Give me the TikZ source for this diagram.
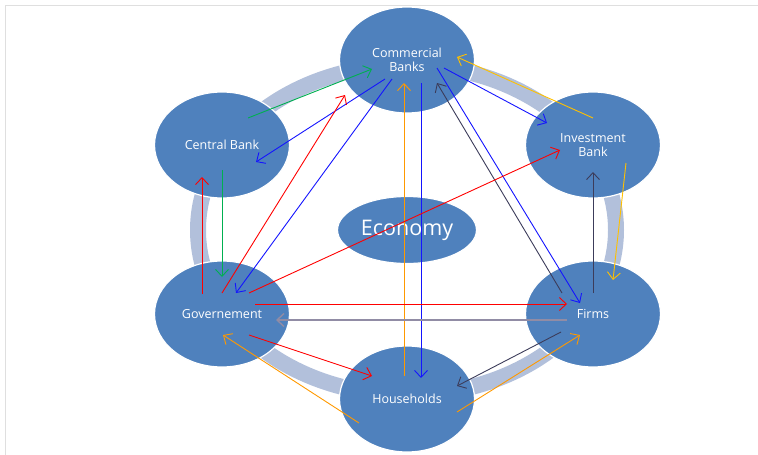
\documentclass[tikz,border=0pt]{standalone}
\usepackage{fontspec}
\setmainfont{Open Sans}
\usetikzlibrary{shapes.geometric,arrows.meta}

\definecolor{nodeblue}{RGB}{79,129,189}
\definecolor{ringblue}{RGB}{178,192,219}
\definecolor{flowgreen}{RGB}{0,176,80}
\definecolor{flowred}{RGB}{255,0,0}
\definecolor{flowblue}{RGB}{20,20,255}
\definecolor{floworange}{RGB}{255,153,0}
\definecolor{flowgold}{RGB}{255,192,0}
\definecolor{flowslate}{RGB}{60,60,90}
\definecolor{flowgrey}{RGB}{145,140,165}

\begin{document}
\begin{tikzpicture}[x=1pt,y=-1pt,
  actor/.style={ellipse,draw=white,line width=1.2pt,fill=nodeblue,text=white,
    minimum width=135pt,minimum height=106pt,inner sep=0pt,align=center,
    font=\fontsize{12.5}{14.5}\selectfont},
  flow/.style={-{Straight Barb[length=7pt,width=13pt]},line width=0.9pt}]
\useasboundingbox (0,0) rectangle (758,455);

%Frame
\draw[gray!25,line width=1pt] (5,455) -- (5,5) -- (758,5);

%Ring
\coordinate (hub) at (407,230);
\draw[ringblue,line width=16pt] (hub) ellipse [x radius=209pt,y radius=165pt];

%Commercial Banks
\node[actor] (cb) at (407,60){Commercial\\Banks};

%Central Bank
\node[actor] (cen) at (222,145){Central Bank};

%Investment Bank
\node[actor] (ib) at (593,145){Investment\\Bank};

%Governement
\node[actor] (gov) at (222,314){Governement};

%Firms
\node[actor] (firm) at (593,314){Firms};

%Households
\node[actor] (hh) at (407,399){Households};

%Economy
\node[actor,minimum width=139pt,minimum height=67pt,
  font=\fontsize{21.5}{24}\selectfont] (eco) at (hub){Economy};

%%%%%%%%%%%%%%%%%Commercial Banks%%%%%%%%%%%%%%
\draw[flow,flowgreen] ([shift={(26,-27)}]cen.center) -- ([shift={(-35,9)}]cb.center);
\draw[flow,flowblue] ([shift={(-22,19)}]cb.center) -- ([shift={(34,17)}]cen.center);
\draw[flow,flowred] ([shift={(0,-21)}]gov.center) -- ([shift={(-62,35)}]cb.center);
\draw[flow,flowblue] ([shift={(-15,19)}]cb.center) -- ([shift={(14,-21)}]gov.center);
\draw[flow,floworange] ([shift={(-3,-23)}]hh.center) -- ([shift={(-3,23)}]cb.center);
\draw[flow,flowblue] ([shift={(14,23)}]cb.center) -- ([shift={(14,-21)}]hh.center);
\draw[flow,flowslate] ([shift={(-31,-21)}]firm.center) -- ([shift={(30,23)}]cb.center);
\draw[flow,flowblue] ([shift={(30,8)}]cb.center) -- ([shift={(-13,-11)}]firm.center);
\draw[flow,flowblue] ([shift={(37,8)}]cb.center) -- ([shift={(-46,-22)}]ib.center);
\draw[flow,flowgold] ([shift={(0,-27)}]ib.center) -- ([shift={(50,-3)}]cb.center);

%%%%%%%%%%%%%%%%%Investment Bank%%%%%%%%%%%%%%
\draw[flow,flowred] ([shift={(27,-21)}]gov.center) -- ([shift={(-33,5)}]ib.center);
\draw[flow,flowslate] ([shift={(0,-21)}]firm.center) -- ([shift={(0,27)}]ib.center);
\draw[flow,flowgold] ([shift={(33,18)}]ib.center) -- ([shift={(20,-34)}]firm.center);

%%%%%%%%%%%%%%%%%Governement%%%%%%%%%%%%%%
\draw[flow,flowred] ([shift={(-20,-20)}]gov.center) -- ([shift={(-20,32)}]cen.center);
\draw[flow,flowgreen] ([shift={(0,25)}]cen.center) -- ([shift={(0,-37)}]gov.center);
\draw[flow,flowred] ([shift={(33,-10)}]gov.center) -- ([shift={(-26,-10)}]firm.center);
\draw[flow,flowgrey,line width=1.4pt] ([shift={(-26,6)}]firm.center) -- ([shift={(54,6)}]gov.center);
\draw[flow,flowred] ([shift={(27,21)}]gov.center) -- ([shift={(-35,-23)}]hh.center);
\draw[flow,floworange] ([shift={(-48,24)}]hh.center) -- ([shift={(1,21)}]gov.center);

%%%%%%%%%%%%%%%%%Households%%%%%%%%%%%%%%
\draw[flow,flowslate] ([shift={(-32,18)}]firm.center) -- ([shift={(50,-13)}]hh.center);
\draw[flow,floworange] ([shift={(50,13)}]hh.center) -- ([shift={(-13,21)}]firm.center);

\end{tikzpicture}
\end{document}
